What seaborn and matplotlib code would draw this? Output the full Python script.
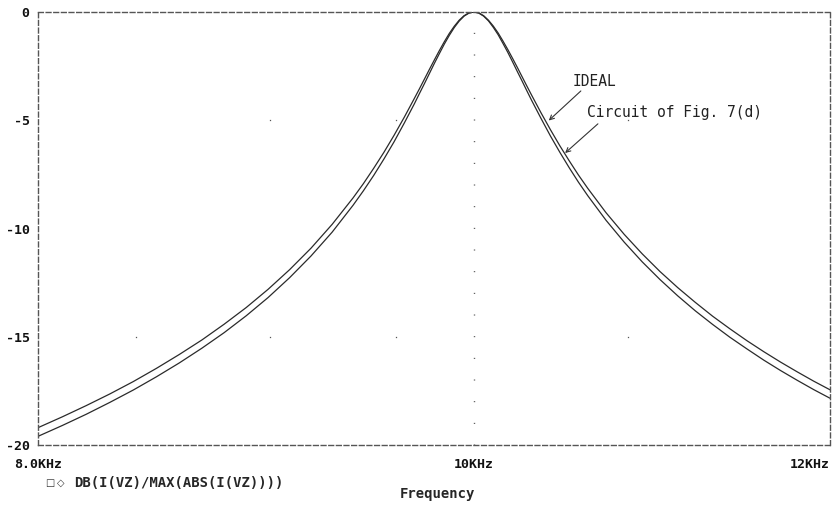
import matplotlib
matplotlib.use("Agg")
import matplotlib.pyplot as plt
from matplotlib.ticker import NullLocator, FixedLocator
import pandas as pd
import seaborn as sns

# frequency points (Hz) and magnitude (dB)
freq_hz = [8000, 8100, 8200, 8300, 8400, 8500, 8600, 8700, 8800, 8900,
           9000, 9100, 9200, 9300, 9400,
           9450, 9500, 9550, 9600, 9650, 9700,
           9725, 9750, 9775, 9800, 9825, 9850, 9875, 9900, 9925, 9950, 9975,
           10000, 10025, 10050, 10075, 10100, 10125, 10150, 10175, 10200,
           10225, 10250, 10275,
           10300, 10350, 10400, 10450, 10500, 10550, 10600,
           10700, 10800, 10900, 11000, 11100, 11200, 11300, 11400, 11500,
           11600, 11700, 11800, 11900, 12000]
ideal_db = [-19.20, -18.70, -18.18, -17.64, -17.07, -16.46, -15.82, -15.15,
            -14.42, -13.65, -12.81, -11.90, -10.91, -9.81, -8.59,
            -7.93, -7.22, -6.48, -5.69, -4.86, -3.99,
            -3.55, -3.10, -2.65, -2.21, -1.78, -1.37, -0.99, -0.66, -0.38,
            -0.17, -0.04, 0.0, -0.04, -0.17, -0.38, -0.65, -0.97, -1.34,
            -1.73, -2.14, -2.56, -2.99, -3.42,
            -3.84, -4.66, -5.44, -6.18, -6.87, -7.53, -8.14,
            -9.27, -10.27, -11.17, -11.99, -12.73, -13.41, -14.05, -14.63,
            -15.18, -15.69, -16.17, -16.62, -17.05, -17.45]
circuit_db = [-19.60, -19.10, -18.58, -18.03, -17.46, -16.85, -16.21, -15.53,
              -14.81, -14.03, -13.19, -12.27, -11.27, -10.17, -8.93,
              -8.26, -7.55, -6.79, -5.99, -5.13, -4.24,
              -3.77, -3.31, -2.84, -2.37, -1.92, -1.48, -1.08, -0.72, -0.42,
              -0.19, -0.05, 0.0, -0.05, -0.19, -0.41, -0.71, -1.05, -1.45,
              -1.86, -2.30, -2.75, -3.19, -3.64,
              -4.08, -4.92, -5.73, -6.48, -7.19, -7.86, -8.48,
              -9.62, -10.63, -11.54, -12.36, -13.11, -13.80, -14.43, -15.02,
              -15.56, -16.08, -16.56, -17.01, -17.44, -17.84]

x_ticks = [8000, 10000, 12000]
x_tick_labels = ["8.0KHz", "10KHz", "12KHz"]
y_ticks = [-20, -15, -10, -5, 0]
y_tick_labels = ["-20", "-15", "-10", "-5", "0"]

df = pd.DataFrame({
    "freq": freq_hz * 2,
    "db": ideal_db + circuit_db,
    "curve": ["IDEAL"] * len(freq_hz) + ["Circuit"] * len(freq_hz),
})

sns.set_style("white")
plt.rcParams["font.family"] = ["DejaVu Sans Mono", "DejaVu Sans"]

fig = plt.figure(figsize=(8.38, 5.05), dpi=100)
ax = fig.add_axes([38 / 838, 1 - 445 / 505, 792 / 838, 433 / 505])

sns.lineplot(data=df, x="freq", y="db", hue="curve",
             palette={"IDEAL": "#2a2a2a", "Circuit": "#2a2a2a"},
             legend=False, lw=0.9, ax=ax)

ax.set_xscale("log")
ax.set_xlim(8000, 12000)
ax.set_ylim(-20, 0)

# grid dots like the probe window
ax.axvline(10000, color="#444444", lw=1.0, linestyle=(0, (0.7, 14.9)), zorder=0)
for gx in [9010, 9610, 10820]:
    ax.plot([gx], [-5], marker="s", ms=0.9, mew=0, color="#555555", zorder=0)
for gx in [8410, 9010, 9610, 10820]:
    ax.plot([gx], [-15], marker="s", ms=0.9, mew=0, color="#555555", zorder=0)

ax.xaxis.set_major_locator(FixedLocator(x_ticks))
ax.xaxis.set_minor_locator(NullLocator())
ax.set_xticklabels(x_tick_labels, fontsize=9.5, fontweight="bold")
lbls = ax.get_xticklabels()
lbls[-1].set_ha("right")
ax.set_yticks(y_ticks)
ax.set_yticklabels(y_tick_labels, fontsize=9.5, fontweight="bold")
ax.tick_params(axis="x", direction="out", length=4, width=0.8, pad=5, colors="#111111")
ax.tick_params(axis="y", direction="inout", length=6, width=0.8, pad=3, colors="#111111")
ax.set_xlabel("")
ax.set_ylabel("")

for sp in ax.spines.values():
    sp.set_visible(True)
    sp.set_linestyle((0, (3.5, 2)))
    sp.set_color("#555555")
    sp.set_linewidth(1.0)

# labels and arrows
ax.text(10520, -3.19, "IDEAL", fontsize=10.5, color="#222222", va="center", ha="left")
ax.annotate("", xy=(10380, -5.1), xytext=(10574, -3.56),
            arrowprops=dict(arrowstyle="->", lw=0.8, color="#333333", mutation_scale=8))
ax.text(10597, -4.62, "Circuit of Fig. 7(d)", fontsize=10.5, color="#222222",
        va="center", ha="left")
ax.annotate("", xy=(10467, -6.6), xytext=(10667, -5.08),
            arrowprops=dict(arrowstyle="->", lw=0.8, color="#333333", mutation_scale=8))

fig.text(45 / 838, 1 - 483 / 505, "\u25a1", fontsize=7, va="center", ha="left",
         family=["DejaVu Sans"], color="#333333")
fig.text(57 / 838, 1 - 483 / 505, "\u25c7", fontsize=7, va="center", ha="left",
         family=["DejaVu Sans"], color="#333333")
fig.text(74 / 838, 1 - 483 / 505, "DB(I(VZ)/MAX(ABS(I(VZ))))", fontsize=10,
         fontweight="bold", va="center", ha="left")
fig.text(437 / 838, 1 - 494 / 505, "Frequency", fontsize=10, fontweight="bold",
         va="center", ha="center")

fig.savefig("out.png", dpi=100, facecolor="white")
